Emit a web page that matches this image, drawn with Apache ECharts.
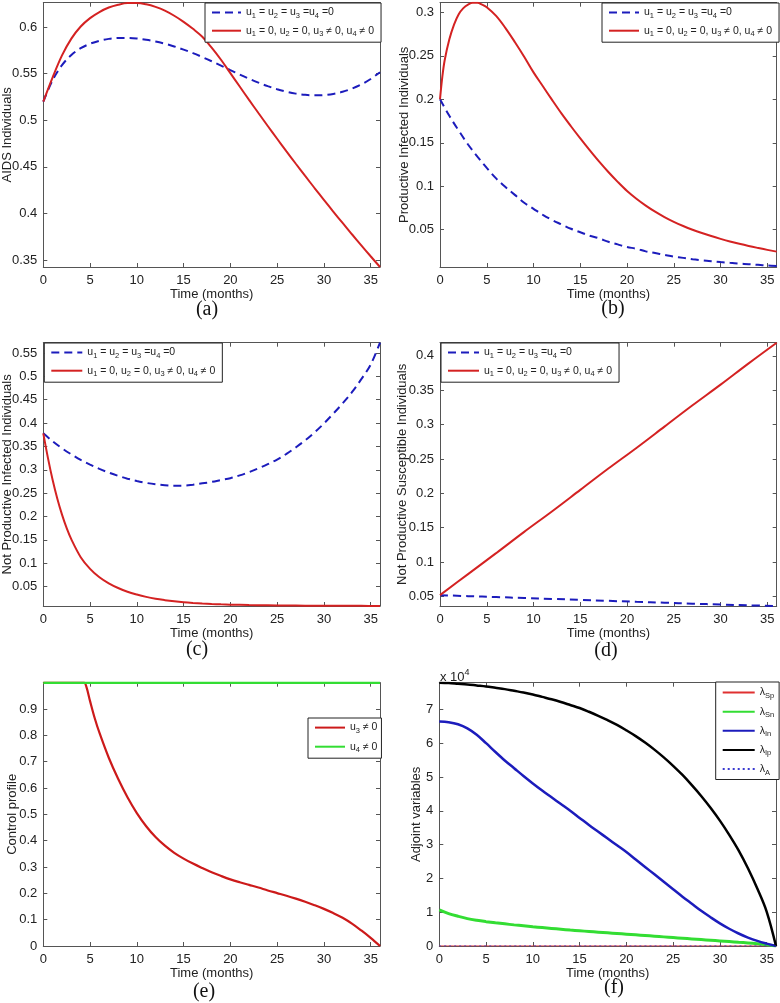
<!DOCTYPE html>
<html><head><meta charset="utf-8">
<script src="https://cdn.jsdelivr.net/npm/echarts@6/dist/echarts.min.js"></script>
<style>html,body{margin:0;padding:0;background:#fff}#c{width:780px;height:1003px}</style>
</head><body><div id="c"></div>
<script>
// ---------------- DATA ----------------
const months = [0,1,2,3,4,5,6,7,8,9,10,11,12,13,14,15,16,17,18,19,20,21,22,23,24,25,26,27,28,29,30,31,32,33,34,35,36];
const xTicks = [0,5,10,15,20,25,30,35];

// (a) AIDS individuals
const aidsNoControl = [0.5200,0.5430,0.5590,0.5700,0.5772,0.5820,0.5852,0.5872,0.5881,0.5882,0.5876,0.5863,0.5844,0.5820,0.5791,0.5757,0.5719,0.5677,0.5632,0.5585,0.5537,0.5490,0.5445,0.5403,0.5365,0.5332,0.5305,0.5285,0.5272,0.5267,0.5270,0.5282,0.5305,0.5338,0.5383,0.5442,0.5515];
const aidsControl = [0.5200,0.5460,0.5695,0.5875,0.6005,0.6095,0.6160,0.6208,0.6238,0.6256,0.6257,0.6243,0.6215,0.6175,0.6120,0.6055,0.5980,0.5895,0.5778,0.5648,0.5505,0.5361,0.5218,0.5077,0.4938,0.4801,0.4666,0.4533,0.4402,0.4273,0.4146,0.4021,0.3898,0.3777,0.3658,0.3541,0.3426];
const yTicksA = [0.35,0.4,0.45,0.5,0.55,0.6];

// (b) productive infected
const prodNoControl = [0.200,0.181,0.164,0.148,0.134,0.121,0.109,0.099,0.090,0.081,0.074,0.067,0.061,0.056,0.051,0.047,0.043,0.040,0.036,0.033,0.030,0.028,0.025,0.023,0.021,0.019,0.0175,0.016,0.0148,0.0137,0.0127,0.0118,0.011,0.0102,0.0095,0.0088,0.0082];
const monthsProdControl = [0,0.25,0.5,1,1.5,2,2.5,3,3.5,4,4.5,5,6,7,8,9,10,11,12,13,14,15,16,17,18,19,20,21,22,23,24,25,26,27,28,29,30,31,32,33,34,35,36];
const prodControl = [0.200,0.226,0.245,0.269,0.286,0.298,0.305,0.309,0.311,0.311,0.309,0.306,0.296,0.282,0.266,0.249,0.2310,0.2150,0.1990,0.1835,0.1690,0.1550,0.1415,0.1285,0.1163,0.1050,0.0945,0.0856,0.0777,0.0707,0.0645,0.0590,0.0542,0.0499,0.0461,0.0426,0.0394,0.0364,0.0337,0.0312,0.0289,0.0267,0.0247];
const yTicksB = [0.05,0.1,0.15,0.2,0.25,0.3];

// (c) not productive infected
const npInfNoControl = [0.378,0.361,0.346,0.333,0.321,0.311,0.302,0.294,0.287,0.281,0.276,0.272,0.269,0.267,0.266,0.266,0.268,0.271,0.274,0.278,0.282,0.288,0.295,0.303,0.312,0.322,0.334,0.348,0.363,0.380,0.399,0.420,0.442,0.466,0.494,0.525,0.572];
const monthsNpInfControl = [0,0.5,1,1.5,2,2.5,3,4,5,6,7,8,9,10,11,12,13,14,15,16,17,18,19,20,22,24,26,28,30,32,34,36];
const npInfControl = [0.378,0.325,0.278,0.238,0.204,0.175,0.151,0.113,0.088,0.070,0.057,0.047,0.039,0.033,0.028,0.024,0.021,0.0185,0.0165,0.015,0.0138,0.0128,0.012,0.0114,0.0105,0.0099,0.0095,0.0092,0.009,0.0089,0.0088,0.0087];
const yTicksC = [0.05,0.1,0.15,0.2,0.25,0.3,0.35,0.4,0.45,0.5,0.55];

// (d) not productive susceptible
const monthsD = [0,3,6,9,12,15,18,21,24,27,30,33,36];
const npSusNoControl = [0.052,0.0505,0.0492,0.0478,0.0465,0.0451,0.0437,0.0423,0.041,0.0396,0.0383,0.0372,0.0362];
const npSusControl = [0.052,0.0826,0.113,0.144,0.174,0.205,0.236,0.266,0.297,0.328,0.358,0.389,0.419];
const yTicksD = [0.05,0.1,0.15,0.2,0.25,0.3,0.35,0.4];

// (e) control profile
const monthsU3 = [0,2,4.35,4.6,5,5.5,6,7,8,9,10,11,12,13,14,15,16,17,18,19,20,21,22,23,24,25,26,27,28,29,30,31,32,33,34,35,36];
const controlU3 = [1,1,1,0.985,0.93,0.865,0.81,0.715,0.635,0.565,0.505,0.455,0.414,0.381,0.354,0.332,0.313,0.296,0.28,0.266,0.253,0.242,0.232,0.222,0.211,0.201,0.191,0.18,0.168,0.155,0.141,0.125,0.107,0.085,0.059,0.031,0];
const monthsU4 = [0,36];
const controlU4 = [1,1];
const yTicksE = [0,0.1,0.2,0.3,0.4,0.5,0.6,0.7,0.8,0.9];

// (f) adjoint variables (units of 10^4)
const lambdaSn = [1.07,0.96,0.88,0.81,0.76,0.72,0.685,0.655,0.625,0.597,0.57,0.545,0.52,0.495,0.47,0.45,0.43,0.41,0.39,0.37,0.35,0.33,0.31,0.29,0.27,0.25,0.23,0.21,0.19,0.17,0.15,0.13,0.11,0.09,0.065,0.035,0];
const lambdaIn = [6.64,6.62,6.56,6.44,6.25,6.00,5.74,5.49,5.26,5.03,4.81,4.60,4.40,4.20,4.00,3.79,3.58,3.38,3.18,2.98,2.78,2.56,2.34,2.12,1.90,1.68,1.46,1.25,1.04,0.85,0.67,0.51,0.37,0.25,0.15,0.07,0];
const lambdaIp = [7.79,7.78,7.76,7.74,7.71,7.68,7.64,7.60,7.55,7.50,7.44,7.37,7.30,7.22,7.13,7.04,6.93,6.81,6.68,6.54,6.38,6.21,6.02,5.81,5.58,5.33,5.06,4.76,4.44,4.09,3.71,3.29,2.83,2.30,1.70,1.02,0];
const monthsFlat = [0,36];
const lambdaSp = [0,0];
const lambdaA = [0,0];
const yTicksF = [0,1,2,3,4,5,6,7];

// ---------------- CHART ----------------
const FONT = "'Liberation Sans', Arial, sans-serif";
const SERIF = "'Liberation Serif', 'Times New Roman', serif";
const AX = '#555';
const TXT = '#222';
const RED = '#d42222', BLUE = '#1c1cbc', GREEN = '#33dd33';

const N_OFF = 'u1 = u2 = u3 =u4 =0';
const N_ON = 'u1 = 0, u2 = 0, u3 \u2260 0, u4 \u2260 0';
const richNames = {};
richNames[N_OFF] = '{n|u}{s|1}{n| = u}{s|2}{n| = u}{s|3}{n| =u}{s|4}{n| =0}';
richNames[N_ON] = '{n|u}{s|1}{n| = 0, u}{s|2}{n| = 0, u}{s|3}{n| \u2260 0, u}{s|4}{n| \u2260 0}';
richNames['u3 \u2260 0'] = '{n|u}{s|3}{n| \u2260 0}';
richNames['u4 \u2260 0'] = '{n|u}{s|4}{n| \u2260 0}';
['Sp','Sn','In','Ip','A'].forEach(k => { richNames['\u03bb' + k] = '{n|\u03bb}{s|' + k + '}'; });

const panels = [
  {l:43.3, t:2.7,   h:264.3, ymin:0.3426, ymax:0.626,  yt:yTicksA, yname:'AIDS Individuals', ygap:29},
  {l:440,  t:2.7,   h:264.3, ymin:0.007,  ymax:0.3112, yt:yTicksB, yname:'Productive Infected Individuals', ygap:29},
  {l:43.3, t:342.7, h:263.3, ymin:0.0085, ymax:0.572,  yt:yTicksC, yname:'Not Productive Infected Individuals', ygap:29},
  {l:440,  t:342.7, h:263.3, ymin:0.0362, ymax:0.419,  yt:yTicksD, yname:'Not Productive Susceptible Individuals', ygap:31},
  {l:43.3, t:682.7, h:263.3, ymin:0,      ymax:1,      yt:yTicksE, yname:'Control profile', ygap:24},
  {l:439.3,t:682.7, h:263.3, ymin:0,      ymax:7.79,   yt:yTicksF, yname:'Adjoint variables', ygap:16}
];
const W = 336.7;

const grids = [], xAxes = [], yAxes = [];
panels.forEach((p, i) => {
  grids.push({left:p.l, top:p.t, width:W, height:p.h, outerBoundsMode:'none', containLabel:false});
});
const tickStyle = {show:true, inside:true, length:4, lineStyle:{color:AX, width:1}};
const lineStyleAx = {show:true, onZero:false, lineStyle:{color:AX, width:1}};
const labelStyle = {color:TXT, fontSize:13, fontFamily:FONT};
panels.forEach((p, i) => {
  xAxes.push({type:'value', gridIndex:i, min:0, max:36, position:'bottom',
    axisLine:lineStyleAx, axisTick:Object.assign({customValues:xTicks}, tickStyle),
    axisLabel:Object.assign({customValues:xTicks, margin:7, showMinLabel:true, showMaxLabel:true}, labelStyle),
    splitLine:{show:false},
    name:'Time (months)', nameLocation:'middle', nameGap:21, nameMoveOverlap:false,
    nameTextStyle:{color:TXT, fontSize:13, fontFamily:FONT}});
  yAxes.push({type:'value', gridIndex:i, min:p.ymin, max:p.ymax, position:'left',
    axisLine:lineStyleAx, axisTick:Object.assign({customValues:p.yt}, tickStyle),
    axisLabel:Object.assign({customValues:p.yt, margin:6}, labelStyle),
    splitLine:{show:false},
    name:p.yname, nameLocation:'middle', nameGap:p.ygap, nameMoveOverlap:false,
    nameTextStyle:{color:TXT, fontSize:13, fontFamily:FONT}});
});
// mirror axes (top / right) for the closed box with ticks
panels.forEach((p, i) => {
  xAxes.push({type:'value', gridIndex:i, min:0, max:36, position:'top',
    axisLine:lineStyleAx, axisTick:Object.assign({customValues:xTicks}, tickStyle),
    axisLabel:{show:false}, splitLine:{show:false}});
  yAxes.push({type:'value', gridIndex:i, min:p.ymin, max:p.ymax, position:'right',
    axisLine:lineStyleAx, axisTick:Object.assign({customValues:p.yt}, tickStyle),
    axisLabel:{show:false}, splitLine:{show:false}});
});

function pairs(xs, ys) { return xs.map((x, k) => [x, ys[k]]); }
function line(name, idx, xs, ys, color, width, type) {
  return {type:'line', name:name, xAxisIndex:idx, yAxisIndex:idx,
    data:pairs(xs, ys), symbol:'none', smooth:0.35, animation:false,
    lineStyle:{color:color, width:width, type:type || 'solid'}, itemStyle:{color:color}};
}
const DASH = [8, 5];
const series = [
  line(N_OFF, 0, months, aidsNoControl, BLUE, 2, DASH),
  line(N_ON, 0, months, aidsControl, RED, 2),
  line(N_OFF, 1, months, prodNoControl, BLUE, 2, DASH),
  line(N_ON, 1, monthsProdControl, prodControl, RED, 2),
  line(N_OFF, 2, months, npInfNoControl, BLUE, 2, DASH),
  line(N_ON, 2, monthsNpInfControl, npInfControl, RED, 2),
  line(N_OFF, 3, monthsD, npSusNoControl, BLUE, 2, DASH),
  line(N_ON, 3, monthsD, npSusControl, RED, 2),
  line('u3 \u2260 0', 4, monthsU3, controlU3, '#cc1a1a', 2.2),
  line('u4 \u2260 0', 4, monthsU4, controlU4, GREEN, 2.5),
  line('\u03bbSp', 5, monthsFlat, lambdaSp, '#e03030', 1),
  line('\u03bbSn', 5, months, lambdaSn, GREEN, 3),
  line('\u03bbIn', 5, months, lambdaIn, BLUE, 2.5),
  line('\u03bbIp', 5, months, lambdaIp, '#000000', 2.5),
  line('\u03bbA', 5, monthsFlat, lambdaA, '#3a3ad0', 1.2, [2, 3])
];

const rich = {
  n: {fontSize:10.5, fontFamily:FONT, color:TXT},
  s: {fontSize:7.5, fontFamily:FONT, color:TXT, padding:[7,0,0,0]}
};
function legend(left, top, data, itemWidth, extra) {
  return Object.assign({show:true, left:left, top:top, orient:'vertical', data:data,
    backgroundColor:'#fff', borderColor:'#222', borderWidth:1, borderRadius:0,
    padding:[4,7,4,6], itemGap:5, itemWidth:itemWidth, itemHeight:14, selectedMode:false,
    itemStyle:{opacity:0, borderWidth:0},
    textStyle:{fontSize:10.5, fontFamily:FONT, color:TXT, rich:rich},
    formatter: name => richNames[name] || name}, extra || {});
}
const legends = [
  legend(205, 3, [N_OFF, N_ON], 29),
  legend(602, 3, [N_OFF, N_ON], 30),
  legend(44.3, 343, [N_OFF, N_ON], 31),
  legend(441, 343, [N_OFF, N_ON], 31),
  legend(308, 718, ['u3 \u2260 0', 'u4 \u2260 0'], 30, {padding:[4,4,4,6], itemGap:6}),
  legend(715.7, 682, ['\u03bbSp','\u03bbSn','\u03bbIn','\u03bbIp','\u03bbA'], 32, {padding:[5,5,3,6], itemGap:6})
];

const tags = [['(a)',207,310],['(b)',613,309],['(c)',197,650],['(d)',606,651],['(e)',204,992],['(f)',614,988]];
const graphic = tags.map(t => ({type:'text', x:t[1], y:t[2], silent:true,
  style:{text:t[0], fontSize:20, fontFamily:SERIF, fill:'#111', align:'center', verticalAlign:'middle'}}));
graphic.push({type:'text', x:440, y:668, silent:true,
  style:{text:'{a|x 10}{b|4}', fill:TXT,
    rich:{a:{fontSize:13, fontFamily:FONT, color:TXT}, b:{fontSize:9, fontFamily:FONT, color:TXT, padding:[0,0,9,0]}}}});

const chart = echarts.init(document.getElementById('c'), null, {renderer:'canvas'});
chart.setOption({
  backgroundColor:'#fff',
  animation:false,
  grid:grids, xAxis:xAxes, yAxis:yAxes,
  legend:legends, series:series, graphic:graphic
});
</script></body></html>
